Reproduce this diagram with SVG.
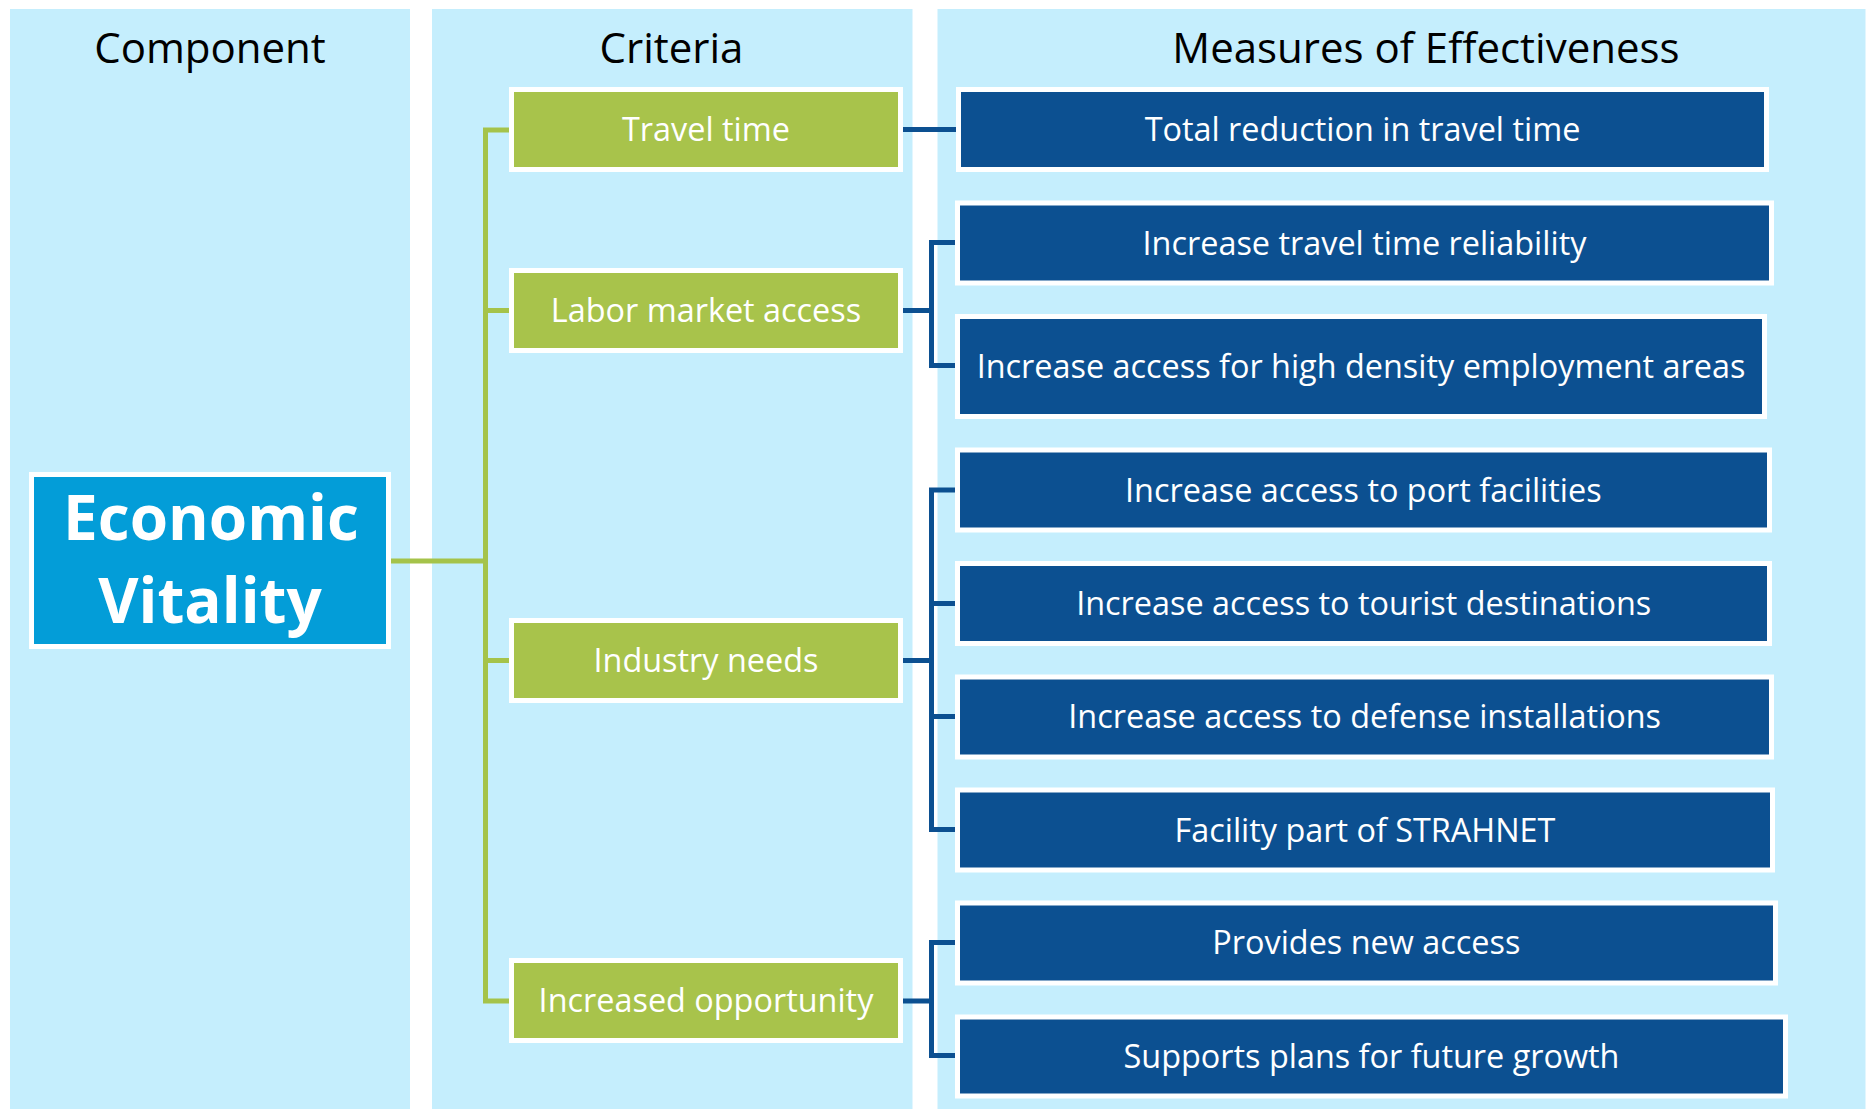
<svg xmlns="http://www.w3.org/2000/svg" width="1875" height="1109" viewBox="0 0 1875 1109">
<style>
.panel{fill:#C5EEFD}
.title{font-family:"Open Sans","Liberation Sans",sans-serif;font-size:42px;fill:#000;text-anchor:middle}
.crit rect{fill:#A8C34B;stroke:#fff;stroke-width:5}
.moe rect{fill:#0C5091;stroke:#fff;stroke-width:5}
.lbl{font-family:"Open Sans","Liberation Sans",sans-serif;font-size:32.4px;fill:#fff;text-anchor:middle}
.gl{fill:none;stroke:#A5C34A;stroke-width:5}
.bl{fill:none;stroke:#0C5091;stroke-width:5}
</style>
<rect width="1875" height="1109" fill="#fff"/>
<g id="panels">
<rect class="panel" x="10" y="9" width="400" height="1100"/>
<rect class="panel" x="432" y="9" width="480.5" height="1100"/>
<rect class="panel" x="937.5" y="9" width="928" height="1100"/>
<text class="title" x="210" y="63">Component</text>
<text class="title" x="671.5" y="63">Criteria</text>
<text class="title" x="1426" y="63">Measures of Effectiveness</text>
</g>
<g id="connectors">
<path class="gl" d="M390,561 H485.5"/>
<path class="gl" d="M509,130 H485.5 V1001 H509"/>
<path class="gl" d="M485.5,310.5 H509 M485.5,660.5 H509"/>
<path class="bl" d="M903,129.5 H956"/>
<path class="bl" d="M903,310.5 H931.5 M955,242.5 H931.5 V365.5 H955"/>
<path class="bl" d="M903,660.5 H931.5 M955,490 H931.5 V829.5 H955 M931.5,603.5 H955 M931.5,716.5 H955"/>
<path class="bl" d="M903,1001 H931.5 M955,942.5 H931.5 V1055.5 H955"/>
</g>
<g id="economic-vitality">
<rect x="31.5" y="474.5" width="357" height="172" fill="#039DD8" stroke="#fff" stroke-width="5"/>
<text font-family="'Open Sans','Liberation Sans',sans-serif" font-size="62" font-weight="bold" fill="#fff" text-anchor="middle"><tspan x="211" y="540">Economic</tspan><tspan x="210" y="623">Vitality</tspan></text>
</g>
<g id="crit-travel-time" class="crit"><rect x="511.5" y="89.5" width="389" height="80"/><text class="lbl" x="706" y="141">Travel time</text></g>
<g id="crit-labor" class="crit"><rect x="511.5" y="270.5" width="389" height="80"/><text class="lbl" x="706" y="322">Labor market access</text></g>
<g id="crit-industry" class="crit"><rect x="511.5" y="620.5" width="389" height="80"/><text class="lbl" x="706" y="672">Industry needs</text></g>
<g id="crit-opportunity" class="crit"><rect x="511.5" y="960.5" width="389" height="80"/><text class="lbl" x="706" y="1012">Increased opportunity</text></g>
<g id="moe-total" class="moe"><rect x="958.5" y="89.5" width="808" height="80"/><text class="lbl" x="1362.5" y="141">Total reduction in travel time</text></g>
<g id="moe-reliability" class="moe"><rect x="957.5" y="203" width="814" height="80"/><text class="lbl" x="1364.5" y="254.5">Increase travel time reliability</text></g>
<g id="moe-density" class="moe"><rect x="957.5" y="316.5" width="807" height="100"/><text class="lbl" x="1361" y="378">Increase access for high density employment areas</text></g>
<g id="moe-port" class="moe"><rect x="957.5" y="450" width="812" height="80"/><text class="lbl" x="1363.3" y="501.5">Increase access to port facilities</text></g>
<g id="moe-tourist" class="moe"><rect x="957.5" y="563.5" width="812" height="80"/><text class="lbl" x="1363.7" y="615">Increase access to tourist destinations</text></g>
<g id="moe-defense" class="moe"><rect x="957.5" y="677" width="814" height="80"/><text class="lbl" x="1364.7" y="728.3">Increase access to defense installations</text></g>
<g id="moe-strahnet" class="moe"><rect x="957.5" y="790" width="815" height="80"/><text class="lbl" x="1365" y="841.7">Facility part of STRAHNET</text></g>
<g id="moe-new-access" class="moe"><rect x="957.5" y="903" width="818" height="80"/><text class="lbl" x="1366.3" y="954.3">Provides new access</text></g>
<g id="moe-growth" class="moe"><rect x="957.5" y="1017" width="828" height="79"/><text class="lbl" x="1371.5" y="1067.8">Supports plans for future growth</text></g>
</svg>
